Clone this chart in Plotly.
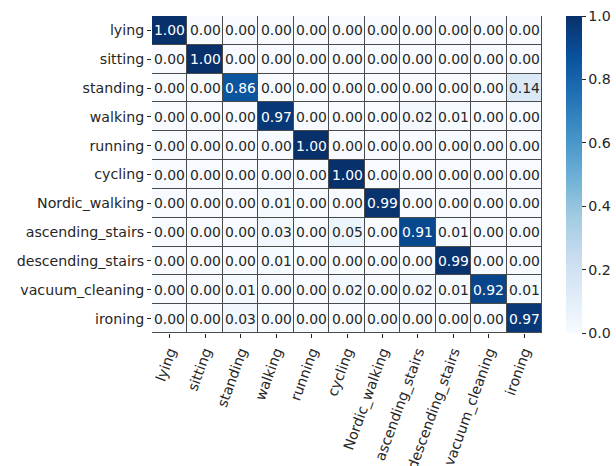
import plotly.graph_objects as go

labels = ["lying", "sitting", "standing", "walking", "running", "cycling",
          "Nordic_walking", "ascending_stairs", "descending_stairs",
          "vacuum_cleaning", "ironing"]

row_lying = [1.00, 0.00, 0.00, 0.00, 0.00, 0.00, 0.00, 0.00, 0.00, 0.00, 0.00]
row_sitting = [0.00, 1.00, 0.00, 0.00, 0.00, 0.00, 0.00, 0.00, 0.00, 0.00, 0.00]
row_standing = [0.00, 0.00, 0.86, 0.00, 0.00, 0.00, 0.00, 0.00, 0.00, 0.00, 0.14]
row_walking = [0.00, 0.00, 0.00, 0.97, 0.00, 0.00, 0.00, 0.02, 0.01, 0.00, 0.00]
row_running = [0.00, 0.00, 0.00, 0.00, 1.00, 0.00, 0.00, 0.00, 0.00, 0.00, 0.00]
row_cycling = [0.00, 0.00, 0.00, 0.00, 0.00, 1.00, 0.00, 0.00, 0.00, 0.00, 0.00]
row_nordic = [0.00, 0.00, 0.00, 0.01, 0.00, 0.00, 0.99, 0.00, 0.00, 0.00, 0.00]
row_ascending = [0.00, 0.00, 0.00, 0.03, 0.00, 0.05, 0.00, 0.91, 0.01, 0.00, 0.00]
row_descending = [0.00, 0.00, 0.00, 0.01, 0.00, 0.00, 0.00, 0.00, 0.99, 0.00, 0.00]
row_vacuum = [0.00, 0.00, 0.01, 0.00, 0.00, 0.02, 0.00, 0.02, 0.01, 0.92, 0.01]
row_ironing = [0.00, 0.00, 0.03, 0.00, 0.00, 0.00, 0.00, 0.00, 0.00, 0.00, 0.97]

z = [row_lying, row_sitting, row_standing, row_walking, row_running, row_cycling,
     row_nordic, row_ascending, row_descending, row_vacuum, row_ironing]

blues = ["#f7fbff", "#deebf7", "#c6dbef", "#9ecae1", "#6baed6",
         "#4292c6", "#2171b5", "#08519c", "#08306b"]
colorscale = [[i / (len(blues) - 1), c] for i, c in enumerate(blues)]

FONT = "DejaVu Sans"
FS_CELL = 13.9
FS_TICK = 14.2

fig = go.Figure(go.Heatmap(
    z=z, x=labels, y=labels, zmin=0, zmax=1,
    colorscale=colorscale, xgap=1, ygap=1,
    colorbar=dict(
        thickness=16, len=1.0, lenmode="fraction", y=0.5, yanchor="middle",
        x=1.0615, xanchor="left", outlinewidth=0, xpad=0, ypad=0,
        tickmode="array", tickvals=[0, 0.2, 0.4, 0.6, 0.8, 1.0],
        ticktext=["0.0", "0.2", "0.4", "0.6", "0.8", "1.0"],
        ticks="outside", ticklen=4, tickcolor="#262626",
        tickfont=dict(family=FONT, size=FS_TICK, color="#262626"),
    ),
    hoverinfo="skip",
))

annotations = []
for i, rl in enumerate(labels):
    for j, cl in enumerate(labels):
        v = z[i][j]
        annotations.append(dict(
            x=cl, y=rl, text=f"{v:.2f}", showarrow=False,
            font=dict(family=FONT, size=FS_CELL,
                      color="white" if v > 0.5 else "#262626"),
        ))

fig.update_layout(
    width=616, height=466,
    margin=dict(l=152, r=74, t=16, b=133, autoexpand=False),
    paper_bgcolor="white", plot_bgcolor="#4a4a4a",
    annotations=annotations,
    font=dict(family=FONT, size=FS_TICK, color="#262626"),
)
fig.update_xaxes(
    tickangle=-70, ticks="outside", ticklen=4, tickcolor="#262626",
    tickfont=dict(family=FONT, size=FS_TICK, color="#262626"),
    showgrid=False, zeroline=False, showline=False, automargin=False,
)
fig.update_yaxes(
    autorange="reversed", ticks="outside", ticklen=4, tickcolor="#262626",
    tickfont=dict(family=FONT, size=FS_TICK, color="#262626"),
    showgrid=False, zeroline=False, showline=False, automargin=False,
)

fig.write_html("out.html")
